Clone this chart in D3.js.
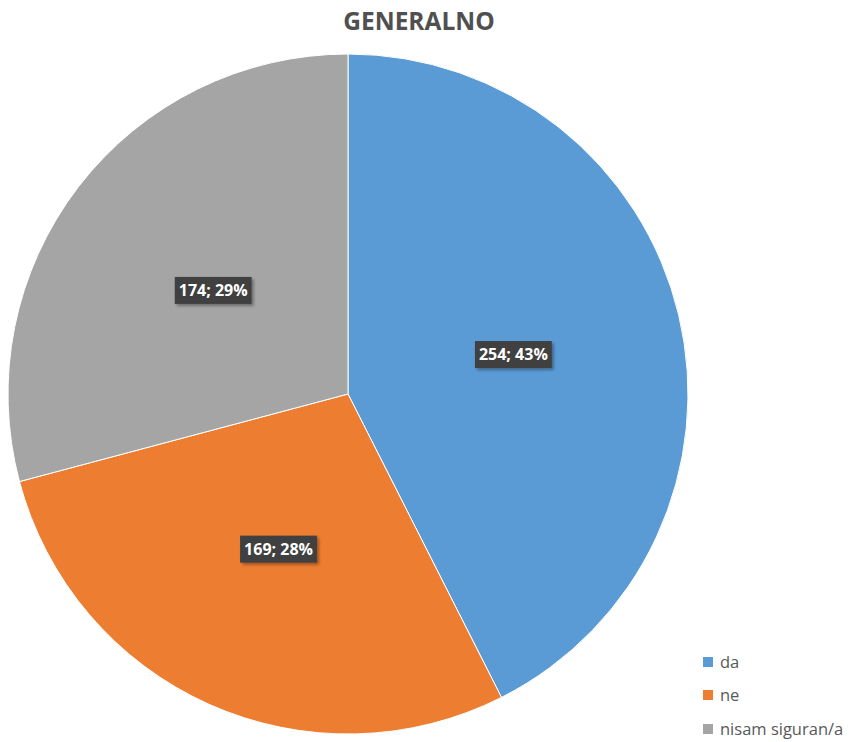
<!DOCTYPE html>
<html><head><meta charset="utf-8">
<script src="https://cdn.jsdelivr.net/npm/d3@7/dist/d3.min.js"></script>
<style>body{margin:0;background:#fff;}svg{display:block;}</style>
</head><body>
<svg id="chart" width="854" height="742"></svg>
<script>
const categories = ["da", "ne", "nisam siguran/a"];
const values = [254, 169, 174];
const percents = ["43%", "28%", "29%"];
const colors = ["#5B9BD5", "#ED7D31", "#A5A5A5"];
const title = "GENERALNO";

const svg = d3.select("#chart");
const cx = 348, cy = 394, R = 340;

const defs = svg.append("defs");
const f = defs.append("filter").attr("id","sh").attr("x","-20%").attr("y","-20%").attr("width","140%").attr("height","140%");
f.append("feDropShadow").attr("dx",2).attr("dy",2).attr("stdDeviation",1.5).attr("flood-color","#000").attr("flood-opacity",0.35);

svg.append("text").attr("x", 419).attr("y", 30).attr("text-anchor","middle")
  .attr("font-family","'Open Sans', sans-serif").attr("font-weight","bold").attr("font-size",24.5)
  .attr("fill","#505050").text(title);

const pie = d3.pie().sort(null).value(d => d);
const arcs = pie(values);
const arc = d3.arc().innerRadius(0).outerRadius(R);
const labelArc = d3.arc().innerRadius(R/2).outerRadius(R/2);

const g = svg.append("g").attr("transform", `translate(${cx},${cy})`);
g.selectAll("path").data(arcs).join("path")
  .attr("d", arc).attr("fill", (d,i) => colors[i])
  .attr("stroke","#fff").attr("stroke-width",1);

const lg = g.selectAll("g.lbl").data(arcs).join("g").attr("class","lbl")
  .attr("transform", d => { const c = labelArc.centroid(d); return `translate(${c[0]},${c[1]})`; });
lg.each(function(d,i){
  const s = d3.select(this);
  const rect = s.append("rect").attr("fill","#404040").attr("filter","url(#sh)");
  const t = s.append("text").attr("text-anchor","middle").attr("dy","0.36em")
    .attr("font-family","'Open Sans', sans-serif").attr("font-weight","bold").attr("font-size",16)
    .attr("fill","#fff").text(values[i] + "; " + percents[i]);
  const bb = t.node().getBBox();
  rect.attr("x", -bb.width/2 - 4).attr("y", -13.5).attr("width", bb.width + 8).attr("height", 27);
});

const leg = svg.append("g").attr("transform","translate(703,0)");
const legY = [662, 695, 729];
categories.forEach((c,i) => {
  leg.append("rect").attr("x",0).attr("y",legY[i]-5).attr("width",10).attr("height",10).attr("fill",colors[i]);
  leg.append("text").attr("x",17).attr("y",legY[i]).attr("dy","0.35em")
    .attr("font-family","'Open Sans', sans-serif").attr("font-size",16.5).attr("fill","#595959").text(c);
});
</script>
</body></html>
